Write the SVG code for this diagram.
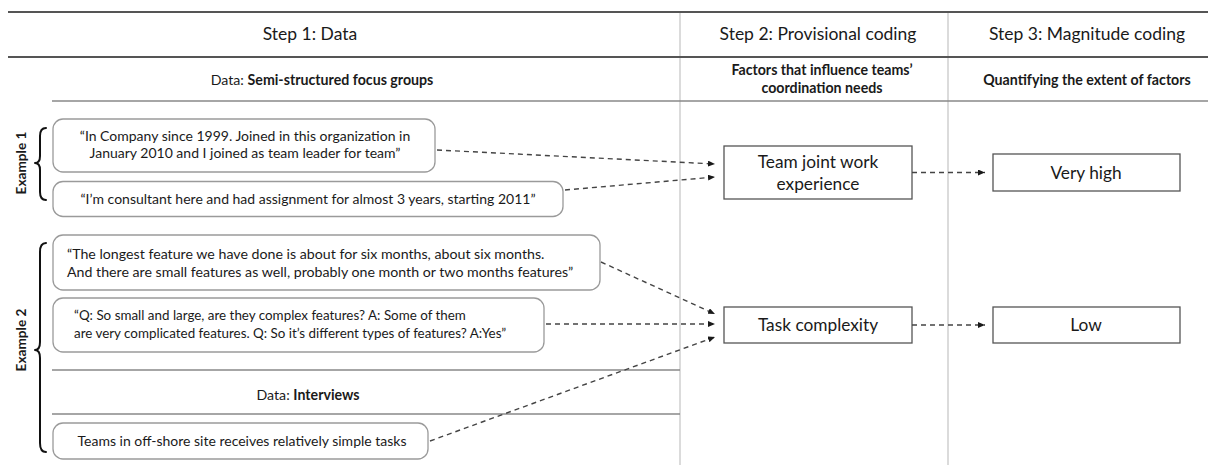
<svg xmlns="http://www.w3.org/2000/svg" width="1208" height="465" viewBox="0 0 1208 465">
<style>
.t{font-family:Lato,"Open Sans","DejaVu Sans",sans-serif;fill:#1a1a1a}
.hdr{font-size:17.5px}
.sub{font-size:14.2px}
.lbl{font-size:13.6px}
.b{font-weight:bold}
.q{font-size:14px}
.q3{font-size:14.2px}
.q4{font-size:13.4px}
.big{font-size:17.3px}
.mid{text-anchor:middle}
.rbox{fill:#fff;stroke:#9a9a9a;stroke-width:1.3}
.box{fill:#fff;stroke:#555;stroke-width:1.3}
.conn{fill:none;stroke:#444;stroke-width:1.4;stroke-dasharray:5 4}
.rdark{stroke:#555;stroke-width:2}
.rule{stroke:#888;stroke-width:1.6}
.vline{stroke:#c8c8c8;stroke-width:1.3}
.brace{fill:none;stroke:#111;stroke-width:2;stroke-linecap:round;stroke-linejoin:round}
</style>
<defs>
<marker id="ah" viewBox="0 0 7 6" refX="7" refY="3" markerWidth="7" markerHeight="6" orient="auto" markerUnits="userSpaceOnUse">
<path d="M0,0 L7,3 L0,6 z" fill="#1a1a1a"/>
</marker>
</defs>
<rect width="1208" height="465" fill="#fff"/>

<g id="grid">
<line class="vline" x1="680" y1="12" x2="680" y2="465"/>
<line class="vline" x1="948" y1="12" x2="948" y2="465"/>
<line class="rdark" x1="8" y1="12" x2="1208" y2="12"/>
<line class="rdark" x1="8" y1="57" x2="1208" y2="57"/>
<line class="rule" x1="52" y1="101" x2="1208" y2="101"/>
<line class="rule" x1="52" y1="370" x2="680" y2="370"/>
<line class="rule" x1="52" y1="414" x2="680" y2="414"/>
</g>

<g id="headers">
<text class="t hdr mid" x="310" y="39.5">Step 1: Data</text>
<text class="t hdr mid" x="818" y="39.5">Step 2: Provisional coding</text>
<text class="t hdr mid" x="1087" y="39.5">Step 3: Magnitude coding</text>
<text class="t sub mid" x="322" y="85">Data: <tspan class="b">Semi-structured focus groups</tspan></text>
<text class="t sub mid b" x="822" y="75">Factors that influence teams’</text>
<text class="t sub mid b" x="822" y="93">coordination needs</text>
<text class="t sub mid b" x="1087" y="85">Quantifying the extent of factors</text>
<text class="t sub mid" x="308" y="400">Data: <tspan class="b">Interviews</tspan></text>
</g>

<g id="example1">
<path class="brace" d="M46,128 Q40,128 40,136 L40,156 Q40,163 35,163 Q40,163 40,170 L40,192 Q40,200 46,200"/>
<text class="t lbl b mid" transform="translate(26,163) rotate(-90)">Example 1</text>
</g>
<g id="example2">
<path class="brace" d="M46,243 Q40,243 40,252 L40,342 Q40,350 35,350 Q40,350 40,358 L40,443 Q40,452 46,452"/>
<text class="t lbl b mid" transform="translate(26,340) rotate(-90)">Example 2</text>
</g>

<g id="quote1">
<rect class="rbox" x="53" y="119" width="382" height="53" rx="10"/>
<text class="t q mid" x="245" y="141">“In Company since 1999. Joined in this organization in</text>
<text class="t q mid" x="245" y="158">January 2010 and I joined as team leader for team”</text>
</g>
<g id="quote2">
<rect class="rbox" x="53" y="181.5" width="510" height="35" rx="10"/>
<text class="t q mid" x="308" y="203.5">“I’m consultant here and had assignment for almost 3 years, starting 2011”</text>
</g>
<g id="quote3">
<rect class="rbox" x="53" y="235" width="547" height="55" rx="10"/>
<text class="t q3" x="67" y="259">“The longest feature we have done is about for six months, about six months.</text>
<text class="t q3" x="67" y="276.5">And there are small features as well, probably one month or two months features”</text>
</g>
<g id="quote4">
<rect class="rbox" x="53" y="298" width="491" height="54" rx="10"/>
<text class="t q4" x="74" y="320">“Q: So small and large, are they complex features?  A: Some of them</text>
<text class="t q4" x="74" y="337.5">are very complicated features. Q: So it’s different types of features? A:Yes”</text>
</g>
<g id="quote5">
<rect class="rbox" x="53" y="423" width="375" height="36" rx="10"/>
<text class="t q mid" x="242" y="446">Teams in off-shore site receives relatively simple tasks</text>
</g>

<g id="factor1">
<rect class="box" x="724" y="146" width="188" height="53"/>
<text class="t big mid" x="818" y="168">Team joint work</text>
<text class="t big mid" x="818" y="190">experience</text>
</g>
<g id="factor2">
<rect class="box" x="724" y="307" width="188" height="36"/>
<text class="t big mid" x="818" y="331">Task complexity</text>
</g>
<g id="mag1">
<rect class="box" x="993" y="154" width="187" height="37"/>
<text class="t big mid" x="1086" y="178.5">Very high</text>
</g>
<g id="mag2">
<rect class="box" x="993" y="307" width="187" height="36"/>
<text class="t big mid" x="1086" y="331">Low</text>
</g>

<g id="connectors">
<path class="conn" d="M437,150 L715,164" marker-end="url(#ah)"/>
<path class="conn" d="M565,190 L715,177" marker-end="url(#ah)"/>
<path class="conn" d="M601,262 L715,314" marker-end="url(#ah)"/>
<path class="conn" d="M546,324 L715,324" marker-end="url(#ah)"/>
<path class="conn" d="M430,441 L715,337" marker-end="url(#ah)"/>
<path class="conn" d="M912,172.5 L985,172.5" marker-end="url(#ah)"/>
<path class="conn" d="M912,325 L985,325" marker-end="url(#ah)"/>
</g>
</svg>
